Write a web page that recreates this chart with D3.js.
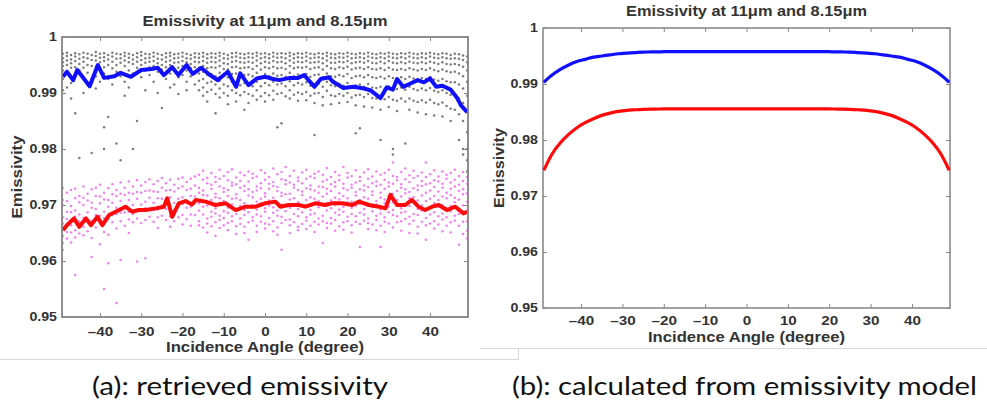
<!DOCTYPE html>
<html><head><meta charset="utf-8">
<script src="https://cdn.jsdelivr.net/npm/d3@7"></script>
<style>
html,body{margin:0;padding:0;background:#fff;}
svg{display:block;}
</style></head>
<body>
<svg id="chart" width="987" height="406"></svg>
<script>
// ---------------- DATA ----------------
const titleText = "Emissivity at 11\u03bcm and 8.15\u03bcm";
const xLabelText = "Incidence Angle (degree)";
const yLabelText = "Emissivity";
const captionA = "(a): retrieved emissivity";
const captionB = "(b): calculated from emissivity model";
const xTicks = [-40, -30, -20, -10, 0, 10, 20, 30, 40];
const yTicks = [0.95, 0.96, 0.97, 0.98, 0.99, 1];

// (a) retrieved: mean 11um (blue) and 8.15um (red) lines
const blueAngles = [-49,-48,-46.5,-45.5,-42.5,-40.5,-39,-36.5,-35,-32.5,-30,-27.5,-26,-24.5,-22.5,-21,-19,-17.5,-15.5,-13.5,-11.5,-10.5,-9,-7,-6,-4,-2,0,2,3.5,6,8,9.5,12,13.5,15.5,16.5,19,21.5,24,25.5,28,29.5,31,32,33.5,35,37,38.5,40,41.5,43,45,46.5,47.5,49];
const blueVals = [.9929,.9938,.9923,.9941,.9912,.9950,.9927,.9930,.9936,.9929,.9941,.9943,.9945,.9932,.9946,.9932,.9950,.9934,.9945,.9933,.9923,.9929,.9938,.9911,.9935,.9914,.9926,.9929,.9925,.9923,.9927,.9927,.9932,.9911,.9925,.9928,.9920,.9909,.9911,.9908,.9905,.9891,.9910,.9906,.9925,.9911,.9916,.9923,.9919,.9926,.9911,.9913,.9906,.9892,.9878,.9866];
const redAngles = [-49,-48,-46.3,-45,-43.4,-42.2,-40.6,-39.4,-37.8,-36.2,-33.8,-32.2,-30.6,-28.9,-26.5,-24.5,-23.7,-22.5,-20.9,-19.3,-17.7,-16.8,-14.4,-12,-9.5,-7.1,-4.7,-2.3,0,2.5,3.7,5.7,8.2,9.8,12.2,14.6,16.2,18.7,21.1,22.8,25.2,27.6,29.2,30.4,32,34,35.6,37.2,38.8,40.5,42.1,44.1,46.1,48.1,49];
const redVals = [.9655,.9664,.9676,.9661,.9676,.9664,.9679,.9664,.9682,.9688,.9697,.9688,.9691,.9691,.9694,.9697,.9712,.9679,.9703,.9707,.9701,.9709,.9706,.9700,.9703,.9691,.9697,.9697,.9703,.9706,.9697,.9700,.9700,.9697,.9703,.9700,.9703,.9703,.9700,.9706,.9700,.9697,.9694,.9718,.9700,.9700,.9709,.9697,.9691,.9697,.9700,.9691,.9697,.9685,.9688];

// (a) retrieved individual samples, one column per degree (-49..49)
const dotAngles = d3.range(-49, 50);
const blackDots = [
[.9970,.9962,.9955,.9948,.9940,.9925,.9905],[.9972,.9966,.9958,.9950,.9935,.9910],[.9968,.9960,.9953,.9945,.9918,.9890],[.9971,.9965,.9957,.9946,.9930,.9864],[.9969,.9961,.9952,.9940,.9784],
[.9972,.9964,.9956,.9945,.9928,.9900],[.9970,.9962,.9950,.9936,.9915],[.9968,.9959,.9948,.9925,.9793],[.9973,.9966,.9958,.9947,.9930,.9908],[.9970,.9963,.9955,.9942,.9920],
[.9971,.9964,.9957,.9946,.9935,.9839,.9800],[.9968,.9960,.9950,.9925,.9857],[.9972,.9965,.9956,.9944,.9915],[.9970,.9961,.9950,.9938,.9810],[.9969,.9962,.9954,.9930,.9780],
[.9972,.9966,.9958,.9948,.9920,.9895],[.9970,.9963,.9955,.9940,.9910],[.9968,.9960,.9952,.9935,.9800],[.9971,.9964,.9956,.9945,.9850],[.9973,.9967,.9959,.9950,.9928],
[.9970,.9962,.9954,.9940,.9905],[.9969,.9963,.9956,.9946,.9932],[.9972,.9965,.9957,.9948,.9920],[.9970,.9961,.9953,.9938,.9900],[.9968,.9960,.9950,.9942,.9873],
[.9971,.9964,.9956,.9946,.9925],[.9972,.9966,.9958,.9950,.9935,.9910],[.9969,.9962,.9954,.9940,.9915],[.9970,.9963,.9955,.9945,.9928,.9898],[.9972,.9965,.9957,.9948,.9932],
[.9970,.9962,.9955,.9940,.9920,.9905],[.9968,.9961,.9952,.9944,.9930],[.9971,.9964,.9956,.9946,.9935,.9915],[.9970,.9963,.9955,.9945,.9935,.9922,.9905],[.9972,.9965,.9957,.9948,.9938,.9925,.9910,.9895],
[.9969,.9962,.9954,.9944,.9932,.9918,.9902,.9885],[.9971,.9964,.9956,.9946,.9934,.9920,.9906],[.9970,.9963,.9955,.9945,.9930,.9915,.9898,.9864],[.9972,.9966,.9958,.9948,.9936,.9922,.9908,.9892],[.9970,.9962,.9953,.9943,.9930,.9915,.9900],
[.9968,.9961,.9952,.9942,.9928,.9912,.9895,.9880],[.9971,.9964,.9956,.9946,.9934,.9920,.9905],[.9972,.9965,.9957,.9947,.9935,.9918,.9900,.9885],[.9970,.9963,.9955,.9944,.9930,.9914,.9896],[.9969,.9962,.9954,.9945,.9932,.9918,.9902,.9870],
[.9971,.9964,.9956,.9946,.9933,.9916,.9898,.9882],[.9970,.9963,.9954,.9943,.9930,.9912,.9895],[.9972,.9966,.9958,.9948,.9936,.9920,.9905,.9888],[.9970,.9962,.9953,.9942,.9928,.9912,.9894],[.9971,.9964,.9956,.9946,.9934,.9918,.9900,.9885],
[.9969,.9962,.9954,.9944,.9930,.9914,.9896],[.9972,.9965,.9957,.9947,.9935,.9920,.9904,.9888],[.9970,.9963,.9955,.9944,.9931,.9915,.9898,.9839],[.9971,.9964,.9956,.9945,.9932,.9917,.9900,.9846],[.9970,.9962,.9953,.9943,.9929,.9912,.9894],
[.9972,.9966,.9958,.9948,.9936,.9921,.9905,.9890],[.9969,.9962,.9954,.9944,.9930,.9914,.9897],[.9971,.9964,.9956,.9946,.9933,.9918,.9901,.9886],[.9970,.9963,.9955,.9945,.9931,.9915,.9898],[.9972,.9965,.9957,.9947,.9934,.9919,.9902,.9887],
[.9970,.9962,.9954,.9943,.9929,.9913,.9895],[.9969,.9963,.9955,.9945,.9932,.9916,.9899,.9882,.9825],[.9971,.9964,.9956,.9946,.9933,.9917,.9900],[.9970,.9962,.9953,.9942,.9928,.9911,.9893,.9878],[.9972,.9966,.9958,.9948,.9935,.9920,.9904],
[.9970,.9963,.9954,.9944,.9930,.9914,.9896,.9880],[.9969,.9962,.9954,.9943,.9929,.9912,.9894],[.9971,.9964,.9956,.9946,.9932,.9916,.9898,.9882],[.9970,.9963,.9955,.9944,.9930,.9913,.9895],[.9972,.9965,.9957,.9947,.9934,.9918,.9900,.9884],
[.9970,.9962,.9953,.9942,.9927,.9910,.9892],[.9969,.9963,.9955,.9944,.9930,.9914,.9896,.9878,.9828],[.9971,.9964,.9956,.9945,.9931,.9915,.9897,.9837],[.9970,.9962,.9954,.9943,.9928,.9911,.9893,.9876],[.9972,.9965,.9957,.9946,.9932,.9916,.9898],
[.9970,.9963,.9954,.9943,.9928,.9910,.9891,.9874],[.9969,.9962,.9953,.9942,.9927,.9909,.9890],[.9971,.9964,.9956,.9944,.9929,.9911,.9892,.9870,.9816],[.9970,.9962,.9953,.9941,.9926,.9908,.9889],[.9972,.9965,.9957,.9945,.9930,.9912,.9893,.9875],
[.9970,.9963,.9954,.9942,.9927,.9909,.9888,.9800,.9790],[.9969,.9962,.9953,.9941,.9926,.9907,.9886,.9868],[.9971,.9964,.9955,.9943,.9928,.9910,.9890],[.9970,.9962,.9953,.9941,.9925,.9906,.9885,.9810],[.9972,.9965,.9956,.9944,.9929,.9911,.9890,.9870],
[.9970,.9963,.9954,.9942,.9926,.9907,.9886],[.9969,.9962,.9953,.9940,.9924,.9905,.9884,.9865],[.9971,.9964,.9955,.9943,.9927,.9908,.9887],[.9970,.9962,.9953,.9941,.9925,.9905,.9883,.9862],[.9972,.9965,.9956,.9944,.9928,.9909,.9888],
[.9970,.9963,.9954,.9941,.9924,.9904,.9882,.9860],[.9969,.9962,.9952,.9939,.9922,.9902,.9880],[.9971,.9964,.9955,.9942,.9925,.9905,.9883,.9858],[.9970,.9962,.9952,.9939,.9921,.9900,.9877],[.9968,.9961,.9951,.9937,.9919,.9897,.9872,.9850],
[.9970,.9962,.9952,.9938,.9919,.9896,.9870],[.9969,.9961,.9950,.9935,.9915,.9890,.9862,.9816],[.9967,.9959,.9947,.9930,.9908,.9882,.9850,.9800,.9790],[.9965,.9955,.9940,.9920,.9895,.9865,.9830,.9800,.9780,.9760]
];
const magentaDots = [
[.9731,.9709,.9700,.9678,.9667,.9645,.9632,.9620],[.9722,.9707,.9688,.9675,.9652,.9640],[.9727,.9698,.9687,.9664,.9651,.9633],[.9729,.9712,.9690,.9679,.9655,.9642,.9575],[.9716,.9705,.9683,.9671,.9649],
[.9733,.9713,.9700,.9677,.9661,.9646],[.9720,.9708,.9687,.9674,.9653],[.9728,.9704,.9695,.9672,.9641,.9607],[.9731,.9716,.9693,.9682,.9660],[.9736,.9715,.9703,.9681,.9667,.9630],
[.9722,.9710,.9688,.9676,.9652,.9550],[.9730,.9709,.9697,.9675,.9647,.9596],[.9737,.9719,.9704,.9682,.9669],[.9727,.9716,.9695,.9684,.9658,.9525],[.9740,.9720,.9707,.9686,.9671,.9602],
[.9731,.9718,.9698,.9687,.9663],[.9742,.9722,.9709,.9688,.9674,.9650],[.9733,.9720,.9700,.9684,.9669],[.9744,.9723,.9711,.9690,.9676,.9599],[.9735,.9722,.9701,.9689,.9668],
[.9741,.9725,.9706,.9694,.9673,.9605],[.9746,.9726,.9713,.9693,.9679],[.9737,.9724,.9704,.9691,.9670],[.9743,.9723,.9712,.9692,.9678,.9659],[.9748,.9731,.9711,.9699,.9681],
[.9739,.9726,.9706,.9693,.9673],[.9745,.9727,.9714,.9694,.9680,.9661],[.9736,.9724,.9704,.9691,.9671],[.9747,.9730,.9711,.9698,.9678],[.9749,.9733,.9714,.9702,.9682,.9665],
[.9741,.9727,.9708,.9695,.9675],[.9747,.9729,.9716,.9697,.9683,.9663],[.9751,.9735,.9715,.9703,.9682],[.9754,.9731,.9722,.9703,.9690,.9671,.9664],[.9761,.9745,.9726,.9718,.9697,.9683,.9660],
[.9748,.9739,.9717,.9706,.9699,.9676,.9667,.9651],[.9757,.9736,.9729,.9709,.9688,.9679,.9662],[.9750,.9741,.9720,.9714,.9694,.9685,.9669,.9645],[.9763,.9747,.9733,.9712,.9704,.9681,.9673,.9659],[.9752,.9730,.9723,.9707,.9689,.9677,.9664],
[.9759,.9744,.9727,.9716,.9695,.9686,.9668,.9655],[.9764,.9740,.9735,.9711,.9701,.9680,.9671],[.9749,.9737,.9719,.9712,.9693,.9684,.9662,.9648],[.9758,.9743,.9731,.9709,.9698,.9676,.9666],[.9753,.9734,.9725,.9703,.9691,.9682,.9661,.9650],
[.9760,.9742,.9728,.9717,.9697,.9687,.9669,.9638],[.9756,.9748,.9723,.9714,.9700,.9678,.9672],[.9751,.9733,.9726,.9706,.9692,.9683,.9663,.9652],[.9762,.9739,.9730,.9711,.9703,.9680,.9670],[.9757,.9745,.9721,.9715,.9694,.9688,.9667,.9658],
[.9750,.9738,.9729,.9708,.9699,.9677,.9665],[.9765,.9741,.9734,.9713,.9696,.9686,.9671,.9653],[.9755,.9732,.9725,.9704,.9690,.9681,.9660,.9647],[.9759,.9746,.9722,.9716,.9701,.9679,.9668,.9620],[.9768,.9744,.9737,.9719,.9698,.9689,.9673],
[.9752,.9740,.9720,.9710,.9695,.9674,.9664,.9650],[.9761,.9736,.9731,.9712,.9702,.9684,.9669],[.9749,.9743,.9727,.9705,.9693,.9680,.9661,.9655],[.9758,.9739,.9724,.9718,.9697,.9687,.9666],[.9763,.9747,.9730,.9709,.9700,.9678,.9672,.9657],
[.9751,.9735,.9728,.9714,.9691,.9683,.9663],[.9756,.9748,.9726,.9711,.9704,.9685,.9670,.9652],[.9760,.9733,.9722,.9707,.9696,.9676,.9665],[.9754,.9742,.9732,.9715,.9699,.9681,.9671,.9632],[.9766,.9745,.9729,.9720,.9703,.9690,.9668,.9659],
[.9750,.9737,.9725,.9708,.9694,.9677,.9667],[.9759,.9741,.9733,.9713,.9700,.9686,.9673,.9654],[.9753,.9744,.9721,.9710,.9692,.9682,.9662],[.9768,.9738,.9730,.9716,.9697,.9688,.9669,.9656],[.9757,.9749,.9727,.9712,.9705,.9679,.9671],
[.9752,.9736,.9731,.9706,.9695,.9684,.9664,.9651],[.9762,.9740,.9723,.9717,.9698,.9680,.9670],[.9750,.9743,.9728,.9709,.9702,.9686,.9666,.9625],[.9758,.9735,.9726,.9714,.9693,.9683,.9672],[.9764,.9747,.9732,.9711,.9699,.9676,.9668,.9657],
[.9751,.9739,.9724,.9718,.9696,.9689,.9665],[.9760,.9742,.9734,.9707,.9701,.9681,.9673,.9655],[.9754,.9736,.9722,.9713,.9692,.9685,.9663,.9625],[.9757,.9745,.9729,.9710,.9703,.9678,.9670,.9652],[.9763,.9740,.9733,.9716,.9697,.9687,.9667],
[.9776,.9752,.9738,.9720,.9705,.9691,.9682,.9660],[.9750,.9744,.9725,.9709,.9700,.9680,.9669],[.9759,.9737,.9731,.9715,.9694,.9686,.9671,.9654],[.9765,.9746,.9728,.9721,.9702,.9688,.9675],[.9753,.9741,.9723,.9712,.9698,.9679,.9666,.9650],
[.9761,.9748,.9730,.9714,.9706,.9684,.9672],[.9752,.9735,.9727,.9708,.9693,.9682,.9661,.9649],[.9758,.9743,.9734,.9717,.9699,.9690,.9670],[.9776,.9750,.9737,.9722,.9707,.9692,.9677,.9664,.9638],[.9755,.9739,.9726,.9711,.9695,.9683,.9667],
[.9762,.9744,.9732,.9716,.9703,.9687,.9671,.9658],[.9751,.9742,.9724,.9709,.9697,.9680,.9665],[.9760,.9738,.9731,.9715,.9700,.9685,.9674,.9653],[.9754,.9747,.9722,.9712,.9694,.9678,.9663],[.9757,.9740,.9729,.9718,.9698,.9689,.9669,.9651],
[.9763,.9745,.9733,.9713,.9705,.9681,.9672],[.9752,.9736,.9725,.9710,.9692,.9684,.9663,.9629],[.9759,.9743,.9728,.9719,.9699,.9687,.9670,.9648],[.9750,.9738,.9721,.9706,.9690,.9671,.9654,.9640]
];

// (b) model curves
const modelAngles = [-49,-47,-45,-43,-41,-39,-37,-35,-33,-31,-29,-27,-25,-23,-21,-19,-15,-10,-5,0,5,10,15,19,21,23,25,27,29,31,33,35,37,39,41,43,45,47,49];
const modelBlue = [.9903,.9916,.9926,.9934,.9940,.9944,.9948,.9950,.9952,.9954,.9955,.9956,.9957,.99572,.99575,.99577,.99578,.99578,.99578,.99578,.99578,.99578,.99578,.99577,.99575,.99572,.9957,.9956,.9955,.9954,.9952,.9950,.9948,.9944,.9940,.9934,.9926,.9916,.9903];
const modelRed = [.9746,.9775,.9795,.9810,.9822,.9831,.9838,.9844,.9848,.9851,.9853,.9854,.98548,.98552,.98554,.98555,.98555,.98555,.98555,.98555,.98555,.98555,.98555,.98555,.98554,.98552,.98548,.9854,.9853,.9851,.9848,.9844,.9838,.9831,.9822,.9810,.9795,.9775,.9746];

// ---------------- DRAW ----------------
const svg = d3.select("#chart");
const FONT = "'Liberation Sans', Arial, sans-serif";
const CAPFONT = "Lato, 'Open Sans', sans-serif";

function stretch(sel, k) {
  sel.each(function () {
    const w = this.getComputedTextLength();
    d3.select(this).attr("textLength", w * k).attr("lengthAdjust", "spacingAndGlyphs");
  });
}

function panel(g, box, titleY, tickLabY, xLabY, yLabX, titleW, xLabW, yLabW) {
  const x = d3.scaleLinear().domain([-49.2, 49.2]).range([box.x0, box.x1]);
  const y = d3.scaleLinear().domain([0.95, 1]).range([box.y1, box.y0]);
  const tickCol = "#888";
  g.append("rect").attr("x", box.x0).attr("y", box.y0)
    .attr("width", box.x1 - box.x0).attr("height", box.y1 - box.y0)
    .attr("fill", "#fff").attr("stroke", "#8a8a8a").attr("stroke-width", 1.6);
  const axB = d3.axisBottom(x).tickValues(xTicks).tickSize(-4).tickFormat(d => d < 0 ? "\u2013" + Math.abs(d) : d);
  const gb = g.append("g").attr("transform", `translate(0,${box.y1})`).call(axB);
  gb.select(".domain").remove();
  gb.selectAll("line").attr("stroke", tickCol);
  gb.selectAll("text").attr("y", null).attr("dy", null)
    .attr("transform", `translate(0,${tickLabY - box.y1})`)
    .attr("font-family", FONT).attr("font-weight", "bold").attr("font-size", 12).attr("fill", "#333");
  stretch(gb.selectAll("text"), 1.27);
  const axT = d3.axisTop(x).tickValues(xTicks).tickSize(-4).tickFormat("");
  const gt = g.append("g").attr("transform", `translate(0,${box.y0})`).call(axT);
  gt.select(".domain").remove(); gt.selectAll("line").attr("stroke", tickCol);
  const axL = d3.axisLeft(y).tickValues(yTicks).tickSize(-4).tickPadding(5).tickFormat(d => d === 1 ? "1" : d.toFixed(2));
  const gl = g.append("g").attr("transform", `translate(${box.x0},0)`).call(axL);
  gl.select(".domain").remove(); gl.selectAll("line").attr("stroke", tickCol);
  gl.selectAll("text").attr("font-family", FONT).attr("font-weight", "bold").attr("font-size", 12).attr("fill", "#333");
  stretch(gl.selectAll("text"), 1.18);
  const axR = d3.axisRight(y).tickValues(yTicks).tickSize(-4).tickFormat("");
  const gr = g.append("g").attr("transform", `translate(${box.x1},0)`).call(axR);
  gr.select(".domain").remove(); gr.selectAll("line").attr("stroke", tickCol);
  const cx = (box.x0 + box.x1) / 2;
  g.append("text").attr("x", cx).attr("y", titleY).attr("text-anchor", "middle")
    .attr("font-family", FONT).attr("font-weight", "bold").attr("font-size", 14).attr("fill", "#333")
    .attr("textLength", titleW).attr("lengthAdjust", "spacingAndGlyphs").text(titleText);
  g.append("text").attr("x", cx).attr("y", xLabY).attr("text-anchor", "middle")
    .attr("font-family", FONT).attr("font-weight", "bold").attr("font-size", 14).attr("fill", "#333")
    .attr("textLength", xLabW).attr("lengthAdjust", "spacingAndGlyphs").text(xLabelText);
  g.append("text").attr("transform", `translate(${yLabX},${(box.y0 + box.y1) / 2}) rotate(-90)`).attr("text-anchor", "middle")
    .attr("font-family", FONT).attr("font-weight", "bold").attr("font-size", 14).attr("fill", "#333")
    .attr("textLength", yLabW).attr("lengthAdjust", "spacingAndGlyphs").text(yLabelText);
  return {x, y};
}

// separator lines
svg.append("line").attr("x1", 0).attr("x2", 518).attr("y1", 359.5).attr("y2", 359.5).attr("stroke", "#d8d8d8");
svg.append("line").attr("x1", 518.5).attr("x2", 518.5).attr("y1", 348).attr("y2", 360).attr("stroke", "#d8d8d8");
svg.append("line").attr("x1", 480).attr("x2", 987).attr("y1", 348.5).attr("y2", 348.5).attr("stroke", "#d8d8d8");

// panel (a)
const ga = svg.append("g");
const A = panel(ga, {x0: 62, x1: 468, y0: 37, y1: 317}, 26, 336, 352, 22, 245, 198, 83);
ga.append("clipPath").attr("id", "clipA")
  .append("rect").attr("x", 62).attr("y", 37).attr("width", 406).attr("height", 280);
const pa = ga.append("g").attr("clip-path", "url(#clipA)");
dotAngles.forEach((ang, i) => {
  pa.selectAll(null).data(blackDots[i]).enter().append("circle")
    .attr("cx", A.x(ang)).attr("cy", d => A.y(d)).attr("r", 1.25).attr("fill", "#444").attr("fill-opacity", 0.7);
});
dotAngles.forEach((ang, i) => {
  pa.selectAll(null).data(magentaDots[i]).enter().append("circle")
    .attr("cx", A.x(ang)).attr("cy", d => A.y(d)).attr("r", 1.25).attr("fill", "#ee55ee").attr("fill-opacity", 0.75);
});
const lineA = d3.line().x(d => A.x(d[0])).y(d => A.y(d[1]));
pa.append("path").datum(blueAngles.map((a, i) => [a, blueVals[i]])).attr("d", lineA)
  .attr("fill", "none").attr("stroke", "#1010ff").attr("stroke-width", 4).attr("stroke-linejoin", "round");
pa.append("path").datum(redAngles.map((a, i) => [a, redVals[i]])).attr("d", lineA)
  .attr("fill", "none").attr("stroke", "#ff0a0a").attr("stroke-width", 4).attr("stroke-linejoin", "round");
ga.append("rect").attr("x", 62).attr("y", 37).attr("width", 406).attr("height", 280)
  .attr("fill", "none").attr("stroke", "#8a8a8a").attr("stroke-width", 1.6);

// panel (b)
const gbp = svg.append("g");
const B = panel(gbp, {x0: 543, x1: 950, y0: 28, y1: 308}, 15.5, 325, 342, 504, 241, 197, 80);
const lineB = d3.line().x(d => B.x(d[0])).y(d => B.y(d[1])).curve(d3.curveMonotoneX);
gbp.append("path").datum(modelAngles.map((a, i) => [a, modelBlue[i]])).attr("d", lineB)
  .attr("fill", "none").attr("stroke", "#1010ff").attr("stroke-width", 3.2);
gbp.append("path").datum(modelAngles.map((a, i) => [a, modelRed[i]])).attr("d", lineB)
  .attr("fill", "none").attr("stroke", "#ff0a0a").attr("stroke-width", 3.2);

// captions
svg.append("text").attr("x", 240).attr("y", 395).attr("text-anchor", "middle")
  .attr("font-family", CAPFONT).attr("font-size", 25.5).attr("fill", "#111")
  .attr("textLength", 296).attr("lengthAdjust", "spacingAndGlyphs").text(captionA);
svg.append("text").attr("x", 744.5).attr("y", 395).attr("text-anchor", "middle")
  .attr("font-family", CAPFONT).attr("font-size", 25.5).attr("fill", "#111")
  .attr("textLength", 465).attr("lengthAdjust", "spacingAndGlyphs").text(captionB);
</script>
</body></html>
